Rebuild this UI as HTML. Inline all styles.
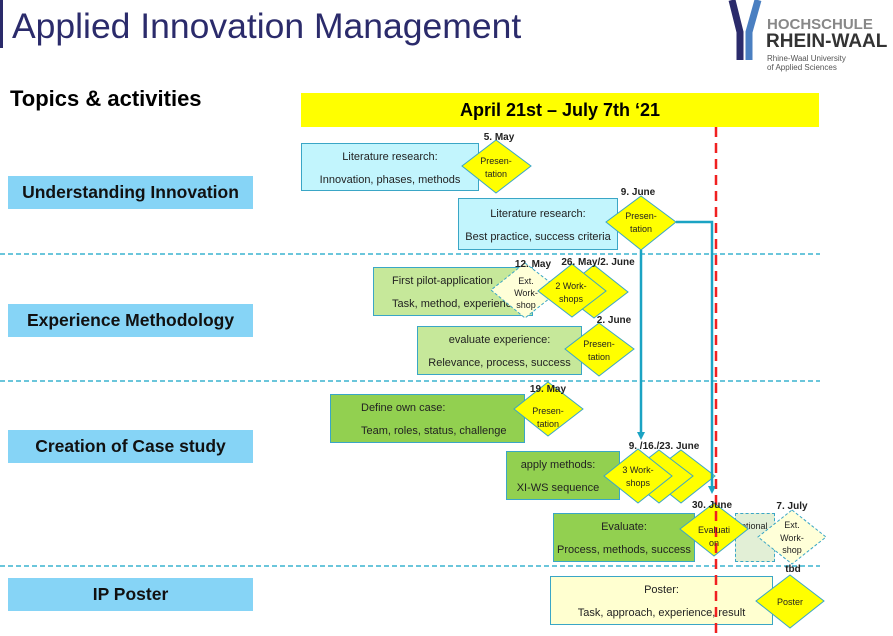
<!DOCTYPE html>
<html><head><meta charset="utf-8"><style>
body{margin:0;width:893px;height:636px;background:#fff;overflow:hidden;position:relative;font-family:"Liberation Sans",sans-serif}
.a{position:absolute}
.lab{position:absolute;left:8px;width:245px;height:33px;background:#86d4f6;font-weight:bold;font-size:17.5px;text-align:center;line-height:33px;color:#111}
.bx{position:absolute;box-sizing:border-box;border:1.5px solid #3aa6c6;font-size:11px;text-align:center;color:#222;line-height:23px;padding-top:2px}
</style></head><body>
<div class="a" style="left:0;top:0;width:3px;height:48px;background:#2a2a6a"></div>
<div class="a" style="left:12px;top:6px;font-size:35.5px;color:#2b2b6b">Applied Innovation Management</div>
<div class="a" style="left:10px;top:86px;font-size:22px;font-weight:bold">Topics &amp; activities</div>
<div class="a" style="left:301px;top:93px;width:518px;height:34px;background:#ffff00;text-align:center;font-weight:bold;font-size:18px;line-height:34px">April 21st – July 7th ‘21</div>
<svg class="a" style="left:725px;top:0" width="40" height="62"><path d="M7 0 L15 32 L15 60" stroke="#2b2b6b" stroke-width="7" fill="none"/><path d="M33 0 L24 32 L24 60" stroke="#4a7fc1" stroke-width="7" fill="none"/></svg>
<div class="a" style="left:767px;top:17px;font-size:15px;font-weight:bold;color:#888;line-height:15px">HOCHSCHULE</div>
<div class="a" style="left:766px;top:32px;font-size:19px;font-weight:bold;color:#333;line-height:19px">RHEIN-WAAL</div>
<div class="a" style="left:767px;top:54px;font-size:8px;color:#555;line-height:9px">Rhine-Waal University<br>of Applied Sciences</div>
<div class="lab" style="top:176px">Understanding Innovation</div>
<div class="lab" style="top:304px">Experience Methodology</div>
<div class="lab" style="top:430px">Creation of Case study</div>
<div class="lab" style="top:578px">IP Poster</div>
<div class="bx" style="left:301px;top:143px;width:178px;height:48px;background:#c2f5fd">Literature research:<br>Innovation, phases, methods</div>
<div class="bx" style="left:458px;top:198px;width:160px;height:52px;background:#c2f5fd;padding-top:4px">Literature research:<br>Best practice, success criteria</div>
<div class="bx" style="left:373px;top:267px;width:160px;height:49px;background:#c6e89a;text-align:left;padding-left:18px">First pilot-application<br>Task, method, experience</div>
<div class="bx" style="left:417px;top:326px;width:165px;height:49px;background:#c6e89a">evaluate experience:<br>Relevance, process, success</div>
<div class="bx" style="left:330px;top:394px;width:195px;height:49px;background:#92d050;text-align:left;padding-left:30px">Define own case:<br>Team, roles, status, challenge</div>
<div class="bx" style="left:506px;top:451px;width:114px;height:49px;background:#92d050;padding-right:10px">apply methods:<br>XI-WS sequence</div>
<div class="bx" style="left:553px;top:513px;width:142px;height:49px;background:#92d050">Evaluate:<br>Process, methods, success</div>
<div class="bx" style="left:735px;top:513px;width:40px;height:49px;background:#e2efd6;border-style:dashed;font-size:9px;text-align:left;padding-left:0;line-height:12px;padding-top:6px">optional</div>
<div class="bx" style="left:550px;top:576px;width:223px;height:49px;background:#ffffd0">Poster:<br>Task, approach, experience, result</div>
<svg class="a" style="left:0;top:0" width="893" height="636" font-family="Liberation Sans" font-size="9">
<g stroke="#3ab3cf" stroke-width="1.5" stroke-dasharray="5,3"><line x1="0" y1="254" x2="820" y2="254"/><line x1="0" y1="381" x2="820" y2="381"/><line x1="0" y1="566" x2="820" y2="566"/></g>
<g stroke="#3aa6c6" stroke-width="1" fill="#ffff00">
<polygon points="496,140 531,166 496,193 462,166"/>
<polygon points="641,196 676,222 641,250 606,222"/>
<polygon points="525,263 560,290 525,318 491,290" fill="#ffffd8" stroke-dasharray="3,2"/>
<polygon points="594,265 628,292 594,318 560,292"/>
<polygon points="572,264 606,291 572,317 538,291"/>
<polygon points="599,323 634,349 599,376 565,349"/>
<polygon points="548,382 583,409 548,436 514,409"/>
<polygon points="681,450 715,476 681,503 647,476"/>
<polygon points="659,450 693,476 659,503 625,476"/>
<polygon points="638,449 672,476 638,503 604,476"/>
<polygon points="714,503 748,529 714,556 680,529"/>
<polygon points="792,510 826,537 792,564 758,537" fill="#ffffd8" stroke-dasharray="3,2"/>
<polygon points="790,575 824,601 790,628 756,601"/>
</g>
<g stroke="#1ba3c3" stroke-width="2.5" fill="none"><polyline points="676,222 712,222 712,488"/><line x1="641" y1="250" x2="641" y2="432"/></g>
<g fill="#1ba3c3"><polygon points="637,432 645,432 641,440"/><polygon points="708,486 716,486 712,494"/></g>
<line x1="716" y1="127" x2="716" y2="636" stroke="#f02020" stroke-width="2.5" stroke-dasharray="10,6"/>
<g text-anchor="middle" fill="#222">
<text x="496" y="164">Presen-</text><text x="496" y="177">tation</text>
<text x="641" y="219">Presen-</text><text x="641" y="232">tation</text>
<text x="526" y="284">Ext.</text><text x="526" y="296">Work-</text><text x="526" y="308">shop</text>
<text x="571" y="289">2 Work-</text><text x="571" y="302">shops</text>
<text x="599" y="347">Presen-</text><text x="599" y="360">tation</text>
<text x="548" y="414">Presen-</text><text x="548" y="427">tation</text>
<text x="638" y="473">3 Work-</text><text x="638" y="486">shops</text>
<text x="714" y="533">Evaluati</text><text x="714" y="546">on</text>
<text x="792" y="528">Ext.</text><text x="792" y="541">Work-</text><text x="792" y="553">shop</text>
<text x="790" y="605">Poster</text>
</g>
<g font-weight="bold" font-size="10" fill="#222" text-anchor="middle">
<text x="499" y="140">5. May</text><text x="638" y="195">9. June</text><text x="533" y="267">12. May</text>
<text x="598" y="265">26. May/2. June</text><text x="614" y="323">2. June</text><text x="548" y="392">19. May</text>
<text x="664" y="449">9. /16./23. June</text><text x="712" y="508">30. June</text><text x="792" y="509">7. July</text><text x="793" y="572">tbd</text>
</g>
</svg>
</body></html>
